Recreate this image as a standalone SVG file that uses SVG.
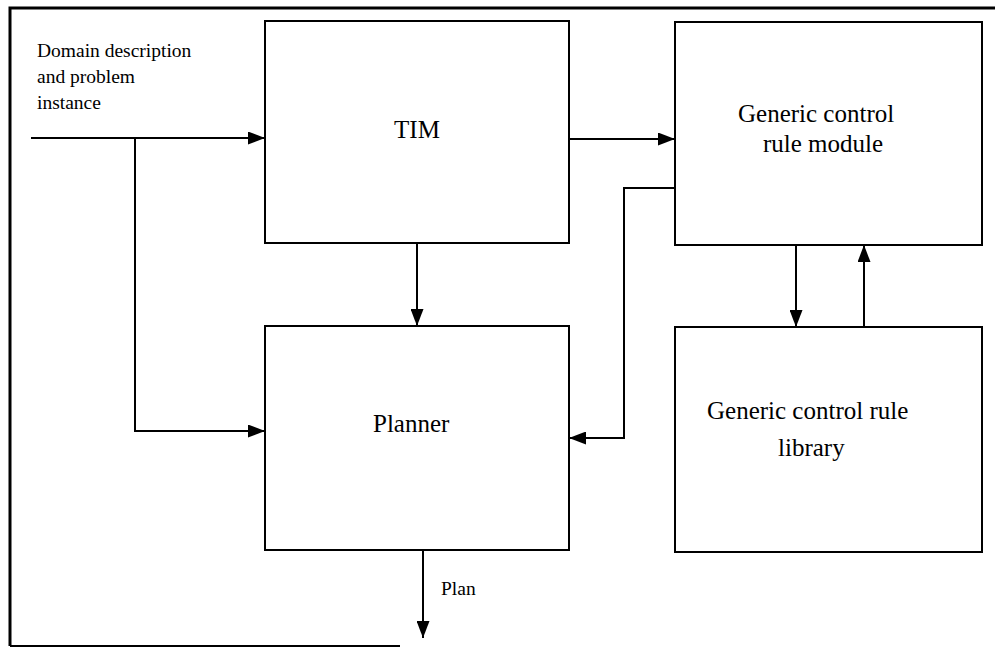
<svg xmlns="http://www.w3.org/2000/svg" width="995" height="648" viewBox="0 0 995 648">
  <style>
    .box { fill: #fff; stroke: #000; stroke-width: 2; }
    .frame { fill: none; stroke: #000; stroke-width: 3; }
    .wire { fill: none; stroke: #000; stroke-width: 2; }
    .label { font-family: "Liberation Serif", "Times New Roman", serif; font-size: 25px; fill: #000; }
    .small { font-family: "Liberation Serif", "Times New Roman", serif; font-size: 19.5px; fill: #000; }
  </style>
  <defs>
    <marker id="arrow" markerUnits="userSpaceOnUse" markerWidth="17" markerHeight="13" refX="17" refY="6.5" orient="auto">
      <path d="M0,0 L17,6.5 L0,13 Z" fill="#000"/>
    </marker>
  </defs>
  <rect width="995" height="648" fill="#fff"/>

  <!-- surrounding frame (open on the right and lower right) -->
  <g id="frame">
    <polyline class="frame" points="995,8 10,8 10,646"/>
    <line x1="10" y1="646" x2="400" y2="646" stroke="#000" stroke-width="2"/>
  </g>

  <g id="input">
    <text class="small" x="37" y="57">Domain description</text>
    <text class="small" x="37" y="83">and problem</text>
    <text class="small" x="37" y="109">instance</text>
  </g>

  <g id="tim">
    <rect class="box" x="265" y="21" width="304" height="222"/>
    <text class="label" x="417" y="138" text-anchor="middle">TIM</text>
  </g>

  <g id="module">
    <rect class="box" x="675" y="22" width="307" height="223"/>
    <text class="label" x="738" y="122">Generic control</text>
    <text class="label" x="763" y="152">rule module</text>
  </g>

  <g id="planner">
    <rect class="box" x="265" y="326" width="304" height="224"/>
    <text class="label" x="373" y="432">Planner</text>
  </g>

  <g id="library">
    <rect class="box" x="675" y="327" width="307" height="225"/>
    <text class="label" x="707" y="419">Generic control rule</text>
    <text class="label" x="778" y="456">library</text>
  </g>

  <g id="connectors">
    <!-- problem input to TIM, with branch to the planner -->
    <line class="wire" x1="31" y1="138" x2="265" y2="138" marker-end="url(#arrow)"/>
    <polyline class="wire" points="135,138 135,431 265,431" marker-end="url(#arrow)"/>
    <!-- TIM to control rule module -->
    <line class="wire" x1="569" y1="139" x2="675" y2="139" marker-end="url(#arrow)"/>
    <!-- TIM to planner -->
    <line class="wire" x1="417" y1="243" x2="417" y2="326" marker-end="url(#arrow)"/>
    <!-- control rule module to planner -->
    <polyline class="wire" points="675,188 624,188 624,438 569,438" marker-end="url(#arrow)"/>
    <!-- module and library exchange -->
    <line class="wire" x1="796" y1="245" x2="796" y2="327" marker-end="url(#arrow)"/>
    <line class="wire" x1="864" y1="327" x2="864" y2="245" marker-end="url(#arrow)"/>
    <!-- planner output -->
    <line class="wire" x1="423" y1="550" x2="423" y2="638" marker-end="url(#arrow)"/>
    <text class="small" x="441" y="595">Plan</text>
  </g>
</svg>
